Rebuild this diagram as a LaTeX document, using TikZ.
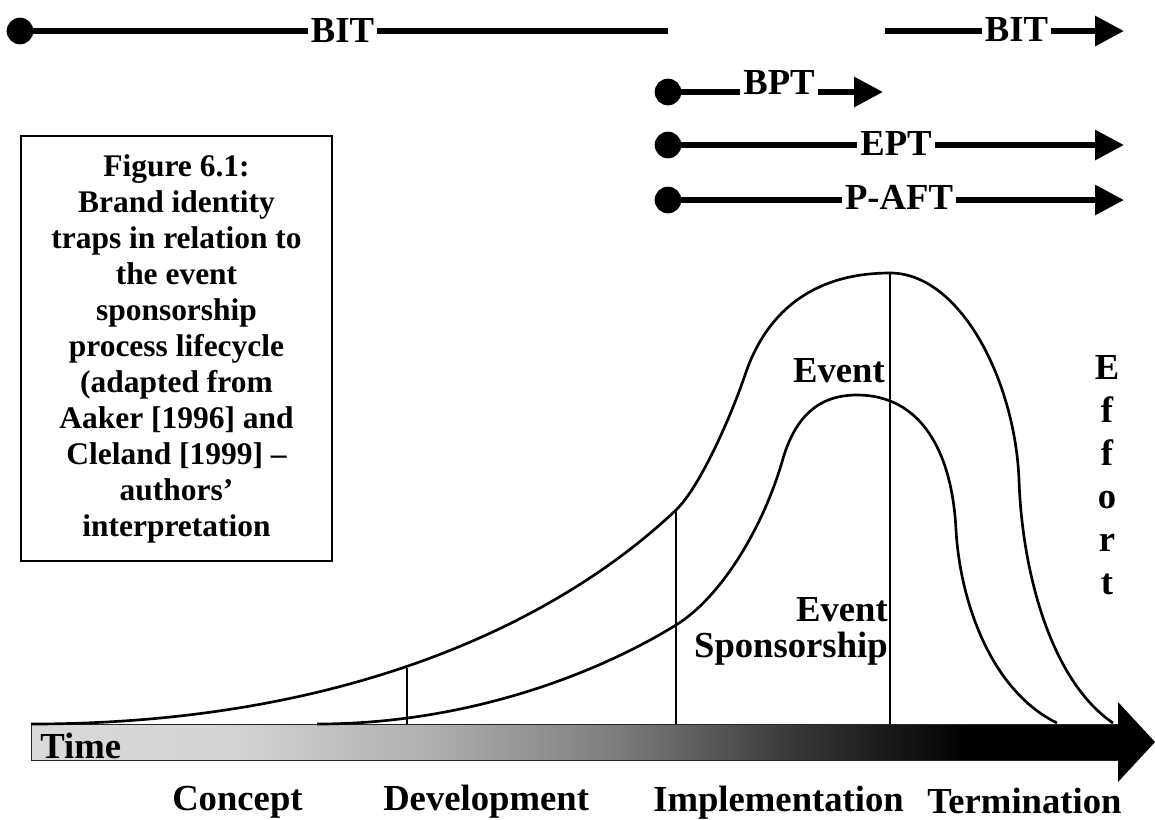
\documentclass[tikz,border=0pt]{standalone}
\usepackage{fontspec}
\setmainfont{Liberation Serif}
\usetikzlibrary{arrows.meta}
\definecolor{gA}{RGB}{218,218,218}
\definecolor{gB}{RGB}{212,212,212}
\definecolor{gC}{RGB}{176,176,176}
\definecolor{gD}{RGB}{124,124,124}
\definecolor{gE}{RGB}{56,56,56}
\pgfdeclarehorizontalshading{timebar}{100bp}{color(0bp)=(gA); color(25bp)=(gA); color(34bp)=(gB); color(43bp)=(gC); color(52bp)=(gD); color(60bp)=(gE); color(68bp)=(black); color(100bp)=(black)}
\tikzset{
  bigtxt/.style={font=\fontsize{27.5pt}{27pt}\selectfont\bfseries, inner sep=0pt},
  toplabel/.style={font=\fontsize{27.5pt}{27pt}\selectfont\bfseries, fill=white, inner xsep=2.5pt, inner ysep=0pt},
  trapline/.style={line width=4.5pt},
  trapdot/.style={circle, fill=black, minimum size=20pt, inner sep=0pt},
  traparrow/.style={line width=4.5pt, -{Triangle[length=21.75pt, width=21.75pt]}},
  lifecurve/.style={line width=2pt, line join=round},
  phaseline/.style={line width=1.5pt},
  captionbox/.style={draw, line width=1.5pt, minimum width=233.25pt, minimum height=318.75pt, align=center, inner sep=0pt, font=\fontsize{23.6pt}{27pt}\selectfont\bfseries}
}
\begin{document}
\begin{tikzpicture}[x=0.75pt, y=-0.75pt]
\useasboundingbox (0,0) rectangle (1155,819);

% ---- top trap lines ----
\node[trapdot] (bitS) at (20,31) {};
\coordinate (bitE) at (668,31);
\draw[trapline] (bitS.center) -- node[toplabel, pos=0.4977] (bitA) {BIT} (bitE);

\coordinate (bitTwoS) at (885,31);
\coordinate (bitTwoE) at (1124,31);
\draw[traparrow] (bitTwoS) -- node[toplabel, pos=0.550, yshift=1pt] (bitB) {BIT} (bitTwoE);

\node[trapdot] (bptS) at (668,92) {};
\coordinate (bptE) at (883,92);
\draw[traparrow] (bptS.center) -- node[toplabel, pos=0.516, yshift=6.75pt] (bpt) {BPT} (bptE);

\node[trapdot] (eptS) at (668,145) {};
\coordinate (eptE) at (1124,145);
\draw[traparrow] (eptS.center) -- node[toplabel, pos=0.5, yshift=1.5pt] (ept) {EPT} (eptE);

\node[trapdot] (paftS) at (668,200) {};
\coordinate (paftE) at (1124,200);
\draw[traparrow] (paftS.center) -- node[toplabel, pos=0.5066, yshift=2pt] (paft) {P-AFT} (paftE);

% ---- caption box ----
\node[captionbox] (caption) at (176.5,348.5) {Figure 6.1:\\Brand identity\\traps in relation to\\the event\\sponsorship\\process lifecycle\\(adapted from\\Aaker [1996] and\\Cleland [1999] –\\authors’\\interpretation};

% ---- time bar ----
\shadedraw[shading=timebar, draw=black!85, line width=0.75pt] (31,724) rectangle (1120,760);
\fill[black] (1118,702) -- (1155,742) -- (1118,782) -- cycle;

% ---- lifecycle curves ----
\draw[lifecurve] (31,724) .. controls (350,724) and (560,620) .. (676,510)
  .. controls (701,486) and (733,411) .. (745,375)
  .. controls (765,315) and (810,273) .. (890,273)
  .. controls (960,273) and (1015,380) .. (1019,480)
  .. controls (1022,570) and (1050,680) .. (1113,723);
\draw[lifecurve] (317,724) .. controls (470,724) and (600,672) .. (676,625)
  .. controls (720,598) and (762,530) .. (782,462)
  .. controls (795,415) and (820,395) .. (857,395)
  .. controls (920,395) and (952,450) .. (956,530)
  .. controls (960,600) and (990,690) .. (1057,723);

% ---- phase separators ----
\draw[phaseline] (407,668) -- (407,724);
\draw[phaseline] (676,510) -- (676,724);
\draw[phaseline] (890,273) -- (890,724);

% ---- curve labels ----
\node[bigtxt, anchor=base east] (evt) at (885,382) {Event};
\node[bigtxt, anchor=north east, align=right] (evsp) at (888,597.7) {Event\\Sponsorship};
\node[bigtxt, align=center, font=\fontsize{27.5pt}{32.25pt}\selectfont\bfseries] (effort) at (1107,475.3) {E\\f\\f\\o\\r\\t};

% ---- axis labels ----
\node[bigtxt, anchor=base west] (time) at (40,758) {Time};
\node[bigtxt, anchor=base west] (concept) at (172,810) {Concept};
\node[bigtxt, anchor=base west] (devel) at (383,810) {Development};
\node[bigtxt, anchor=base west] (impl) at (653,811) {Implementation};
\node[bigtxt, anchor=base west] (term) at (927,813) {Termination};
\end{tikzpicture}
\end{document}
